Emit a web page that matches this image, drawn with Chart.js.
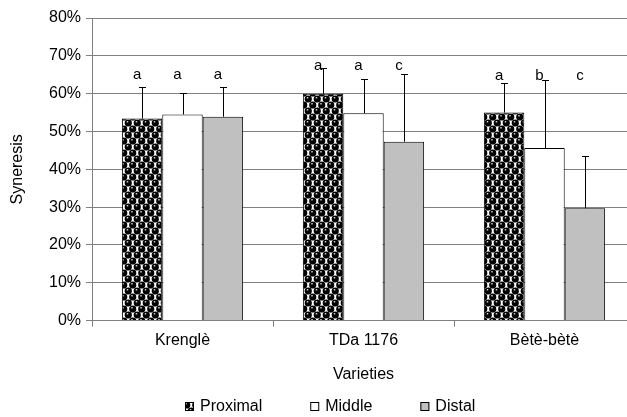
<!DOCTYPE html>
<html>
<head>
<meta charset="utf-8">
<script src="https://cdn.jsdelivr.net/npm/chart.js@4/dist/chart.umd.min.js"></script>
<style>
  html, body { margin: 0; padding: 0; background: #fff; overflow: hidden; }
  #wrap { position: relative; width: 660px; height: 417px; }
</style>
</head>
<body>
<div id="wrap"><canvas id="chart"></canvas></div>
<script>
// data (percent)
const varieties = ['Krenglè', 'TDa 1176', 'Bètè-bètè'];
const seriesNames = ['Proximal', 'Middle', 'Distal'];
const proximal = [53.4, 60.0, 55.0];
const middle = [54.5, 54.8, 45.6];
const distal = [53.9, 47.3, 29.7];
const proximalErr = [8.4, 6.8, 7.9];
const middleErr = [5.8, 9.0, 18.0];
const distalErr = [7.9, 17.9, 13.9];
const proximalLetters = ['a', 'a', 'a'];
const middleLetters = ['a', 'a', 'b'];
const distalLetters = ['a', 'c', 'c'];
// height (in %) where the letters of each variety sit
const letterLevel = [64.9, 67.3, 64.6];
const yTicks = [0, 10, 20, 30, 40, 50, 60, 70, 80];

const FONT = "'Liberation Sans', Arial, sans-serif";

// 구슬 무늬 패턴 (proximal)
function makeBallPattern() {
  const t = document.createElement('canvas');
  t.width = 9; t.height = 12;
  const c = t.getContext('2d');
  c.fillStyle = '#fff';
  c.fillRect(0, 0, 9, 12);
  const centers = [[2.25, 3], [6.75, 9], [11.25, 3], [-2.25, 9], [2.25, 15], [6.75, -3], [-2.25, -3], [11.25, 15], [-6.75, 3], [6.75, 21]];
  for (const [x, y] of centers) {
    c.fillStyle = '#000';
    c.beginPath();
    c.arc(x, y, 3.6, 0, Math.PI * 2);
    c.fill();
  }
  for (const [x, y] of centers) {
    c.fillStyle = '#ccc';
    c.fillRect(x - 1.5, y - 2, 1.5, 1.5);
  }
  return c.createPattern(t, 'repeat');
}
const ballPattern = makeBallPattern();
const fills = [ballPattern, '#ffffff', '#c0c0c0'];
const errs = [proximalErr, middleErr, distalErr];
const letters = [proximalLetters, middleLetters, distalLetters];

// 오차막대
const errorBarPlugin = {
  id: 'errorBars',
  afterDatasetsDraw(chart) {
    const ctx = chart.ctx;
    const y = chart.scales.y;
    ctx.save();
    ctx.strokeStyle = '#000';
    ctx.lineWidth = 1;
    chart.data.datasets.forEach((ds, d) => {
      const meta = chart.getDatasetMeta(d);
      meta.data.forEach((bar, i) => {
        const top = Math.round(y.getPixelForValue(ds.data[i] + errs[d][i])) + 0.5;
        const x = Math.round(bar.x) + 0.5;
        ctx.beginPath();
        ctx.moveTo(x, bar.y);
        ctx.lineTo(x, top);
        ctx.moveTo(x - 3.5, top);
        ctx.lineTo(x + 3.5, top);
        ctx.stroke();
      });
    });
    ctx.restore();
  }
};

// 유의성 문자
const letterPlugin = {
  id: 'letters',
  afterDatasetsDraw(chart) {
    const ctx = chart.ctx;
    const y = chart.scales.y;
    ctx.save();
    ctx.fillStyle = '#000';
    ctx.font = '15px ' + FONT;
    ctx.textAlign = 'center';
    ctx.textBaseline = 'middle';
    chart.data.datasets.forEach((ds, d) => {
      const meta = chart.getDatasetMeta(d);
      meta.data.forEach((bar, i) => {
        ctx.fillText(letters[d][i], bar.x - 5, y.getPixelForValue(letterLevel[i]));
      });
    });
    ctx.restore();
  }
};

// 범례 직접 그리기
const legendPlugin = {
  id: 'bottomLegend',
  afterDraw(chart) {
    const ctx = chart.ctx;
    ctx.save();
    ctx.font = '16px ' + FONT;
    ctx.textBaseline = 'middle';
    const box = 9, gap = 6, between = 48;
    const widths = seriesNames.map(n => box + gap + ctx.measureText(n).width);
    const total = widths.reduce((a, b) => a + b, 0) + between * (seriesNames.length - 1);
    let x = Math.round(chart.width / 2 - total / 2);
    const yc = 407;
    seriesNames.forEach((n, i) => {
      ctx.fillStyle = fills[i];
      ctx.fillRect(x, yc - 5, box, box);
      ctx.strokeStyle = '#000';
      ctx.lineWidth = 1;
      ctx.strokeRect(x + 0.5, yc - 4.5, box - 1, box - 1);
      ctx.fillStyle = '#000';
      ctx.fillText(n, x + box + gap, yc);
      x += widths[i] + between;
    });
    ctx.restore();
  }
};

const ctx = document.getElementById('chart').getContext('2d');
new Chart(ctx, {
  type: 'bar',
  data: {
    labels: varieties,
    datasets: [
      { label: seriesNames[0], data: proximal, backgroundColor: fills[0] },
      { label: seriesNames[1], data: middle, backgroundColor: fills[1] },
      { label: seriesNames[2], data: distal, backgroundColor: fills[2] }
    ].map(ds => Object.assign(ds, {
      borderColor: '#000', borderWidth: 1,
      categoryPercentage: 0.67, barPercentage: 1.0
    }))
  },
  options: {
    responsive: true,
    maintainAspectRatio: false,
    animation: false,
    layout: { padding: { top: 18, right: 25, bottom: 33, left: 0 } },
    plugins: { legend: { display: false }, tooltip: { enabled: false } },
    scales: {
      x: {
        grid: { offset: true, drawOnChartArea: false, drawTicks: true, tickLength: 6, color: '#808080' },
        border: { color: '#808080' },
        ticks: { color: '#000', font: { family: FONT, size: 16 }, padding: 4 },
        title: { display: true, text: 'Varieties', color: '#000', font: { family: FONT, size: 16 }, padding: { top: 11, bottom: 0 } }
      },
      y: {
        min: 0, max: 80,
        afterBuildTicks(scale) { scale.ticks = yTicks.map(v => ({ value: v })); },
        afterFit(scale) { scale.width = 92; },
        grid: { color: '#808080', tickLength: 6 },
        border: { color: '#808080' },
        ticks: { color: '#000', font: { family: FONT, size: 16 }, padding: 5, callback: v => v + '%' },
        title: { display: true, text: 'Syneresis', color: '#000', font: { family: FONT, size: 16 }, padding: { top: 8, bottom: 0 } }
      }
    }
  },
  plugins: [errorBarPlugin, letterPlugin, legendPlugin]
});
</script>
</body>
</html>
